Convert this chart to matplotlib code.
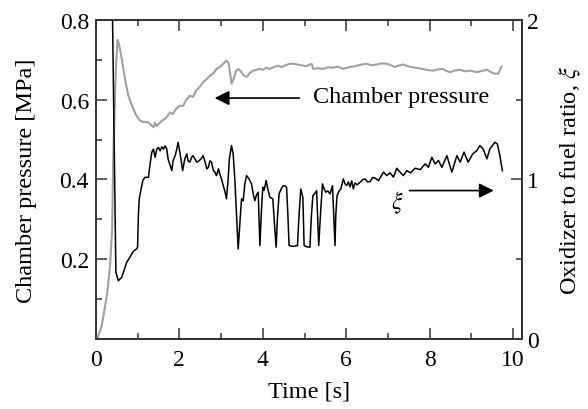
import matplotlib
matplotlib.use("Agg")
import matplotlib.pyplot as plt
from matplotlib.ticker import MultipleLocator, FuncFormatter

plt.rcParams['font.family'] = ['Liberation Serif', 'DejaVu Serif']
plt.rcParams['mathtext.fontset'] = 'stix'

# chamber pressure [MPa] vs time [s]
t_p = [0, 0.05, 0.14, 0.19, 0.27, 0.34, 0.39, 0.42, 0.48, 0.52, 0.55, 0.60, 0.66, 0.72,
       0.78, 0.84, 0.90, 0.96, 1.06, 1.15, 1.26, 1.32, 1.38, 1.42, 1.46, 1.54, 1.61, 1.68,
       1.78, 1.85, 1.92, 2.02, 2.09, 2.16, 2.25, 2.33, 2.40, 2.49, 2.57, 2.66, 2.73, 2.81,
       2.89, 2.97, 3.05, 3.13, 3.18, 3.23, 3.25, 3.30, 3.36, 3.42, 3.48, 3.55, 3.62, 3.69,
       3.76, 3.84, 3.93, 4.00, 4.08, 4.17, 4.27, 4.36, 4.46, 4.56, 4.65, 4.73, 4.89, 5.03,
       5.17, 5.21, 5.32, 5.44, 5.56, 5.68, 5.80, 5.92, 6.05, 6.25, 6.37, 6.49, 6.61, 6.73,
       6.85, 6.97, 7.07, 7.17, 7.27, 7.36, 7.48, 7.60, 7.72, 7.84, 7.96, 8.08, 8.20, 8.32,
       8.40, 8.49, 8.60, 8.72, 8.84, 8.97, 9.13, 9.25, 9.37, 9.45, 9.52, 9.64, 9.72]
p = [0, 0.005, 0.033, 0.063, 0.113, 0.183, 0.276, 0.47, 0.677, 0.75, 0.74, 0.715, 0.677, 0.64,
     0.61, 0.592, 0.577, 0.562, 0.547, 0.544, 0.543, 0.537, 0.531, 0.542, 0.534, 0.543, 0.549, 0.554,
     0.568, 0.564, 0.577, 0.585, 0.584, 0.599, 0.61, 0.607, 0.622, 0.632, 0.644, 0.652, 0.66, 0.665,
     0.677, 0.682, 0.69, 0.698, 0.692, 0.657, 0.64, 0.652, 0.672, 0.677, 0.670, 0.660, 0.657, 0.667,
     0.672, 0.675, 0.677, 0.675, 0.680, 0.677, 0.682, 0.685, 0.682, 0.687, 0.690, 0.690, 0.687, 0.684,
     0.690, 0.677, 0.679, 0.677, 0.681, 0.680, 0.683, 0.677, 0.681, 0.685, 0.688, 0.690, 0.686, 0.688,
     0.691, 0.690, 0.686, 0.682, 0.686, 0.688, 0.684, 0.681, 0.679, 0.677, 0.674, 0.673, 0.676, 0.677,
     0.672, 0.669, 0.673, 0.675, 0.671, 0.673, 0.669, 0.672, 0.675, 0.670, 0.666, 0.665, 0.683]

# oxidizer to fuel ratio xi vs time [s]
t_xi = [0.37, 0.48, 0.54, 0.58, 0.62, 0.67, 0.74, 0.79, 0.86, 0.91, 0.98, 1.00, 1.02, 1.04,
        1.10, 1.13, 1.18, 1.26, 1.30, 1.34, 1.38, 1.42, 1.46, 1.50, 1.54, 1.58, 1.62, 1.66,
        1.70, 1.73, 1.82, 1.85, 1.90, 1.94, 1.97, 2.02, 2.08, 2.13, 2.18, 2.21, 2.25, 2.30,
        2.33, 2.37, 2.42, 2.47, 2.52, 2.57, 2.61, 2.66, 2.70, 2.73, 2.77, 2.82, 2.85, 2.89,
        2.94, 2.97, 3.01, 3.06, 3.09, 3.13, 3.17, 3.20, 3.25, 3.29, 3.33, 3.37, 3.41, 3.45,
        3.49, 3.53, 3.57, 3.61, 3.67, 3.73, 3.77, 3.81, 3.85, 3.89, 3.93, 3.97, 4.00, 4.03,
        4.08, 4.12, 4.17, 4.24, 4.28, 4.32, 4.35, 4.39, 4.44, 4.49, 4.53, 4.57, 4.60, 4.63,
        4.73, 4.83, 4.87, 4.91, 4.96, 4.99, 5.06, 5.13, 5.16, 5.20, 5.24, 5.29, 5.34, 5.39,
        5.43, 5.47, 5.51, 5.56, 5.61, 5.67, 5.73, 5.75, 5.78, 5.83, 5.87, 5.93, 5.97, 6.01,
        6.05, 6.09, 6.13, 6.17, 6.21, 6.26, 6.33, 6.39, 6.45, 6.51, 6.57, 6.63, 6.69, 6.77,
        6.89, 6.97, 7.05, 7.13, 7.21, 7.29, 7.37, 7.45, 7.54, 7.65, 7.77, 7.89, 7.97, 8.05,
        8.13, 8.21, 8.29, 8.41, 8.53, 8.65, 8.73, 8.82, 8.92, 9.03, 9.13, 9.20, 9.28, 9.37,
        9.44, 9.56, 9.62, 9.68, 9.74]
xi = [2.6, 0.418, 0.365, 0.376, 0.386, 0.426, 0.481, 0.50, 0.533, 0.552, 0.564, 0.577, 0.784, 0.878,
      0.961, 0.997, 1.013, 1.013, 1.097, 1.17, 1.19, 1.139, 1.19, 1.201, 1.179, 1.204, 1.19, 1.21,
      1.19, 1.129, 1.055, 1.116, 1.149, 1.19, 1.233, 1.16, 1.055, 1.129, 1.16, 1.116, 1.108, 1.141,
      1.149, 1.129, 1.108, 1.116, 1.129, 1.149, 1.116, 1.066, 1.078, 1.116, 1.108, 1.053, 1.047, 1.024,
      1.066, 1.034, 1.003, 0.953, 0.928, 0.878, 1.003, 1.129, 1.212, 1.16, 1.003, 0.784, 0.564, 0.721,
      0.878, 0.865, 0.972, 1.024, 1.003, 0.972, 0.909, 0.867, 0.903, 0.92, 0.585, 0.815, 0.951, 0.93,
      0.993, 0.94, 0.888, 0.878, 0.721, 0.575, 0.752, 0.909, 0.94, 0.961, 0.959, 0.951, 0.784, 0.585,
      0.580, 0.585, 0.784, 0.94, 0.888, 0.585, 0.577, 0.575, 0.752, 0.898, 0.909, 0.93, 0.585, 0.815,
      0.972, 0.94, 0.92, 0.928, 0.909, 0.961, 0.585, 0.784, 0.898, 0.928, 0.94, 1.003, 0.972, 0.961,
      0.984, 0.953, 0.991, 0.94, 0.978, 0.966, 0.982, 0.997, 1.003, 0.984, 0.986, 1.012, 1.008, 0.992,
      1.045, 1.024, 1.041, 1.014, 1.07, 1.045, 1.024, 1.055, 1.041, 1.07, 1.061, 1.097, 1.076, 1.139,
      1.097, 1.118, 1.076, 1.149, 1.045, 1.149, 1.108, 1.171, 1.108, 1.16, 1.181, 1.212, 1.191, 1.129,
      1.191, 1.233, 1.223, 1.149, 1.055]

fig = plt.figure(figsize=(5.88, 4.10), dpi=100)
ax = fig.add_axes([0.163, 0.171, 0.724, 0.778])
ax2 = ax.twinx()

ax.plot(t_p, p, color='#a0a0a0', lw=1.5, zorder=3)
ax2.plot(t_xi, xi, color='black', lw=1.1, zorder=3)

ax.set_xlim(0, 10.2)
ax.set_ylim(0, 0.8)
ax2.set_ylim(0, 2)

ax.xaxis.set_major_locator(MultipleLocator(2))
ax.xaxis.set_minor_locator(MultipleLocator(1))
ax.yaxis.set_major_locator(MultipleLocator(0.2))
ax.yaxis.set_minor_locator(MultipleLocator(0.1))
ax.yaxis.set_major_formatter(FuncFormatter(lambda v, pos: '' if abs(v) < 1e-9 else '%.1f' % v))
ax2.yaxis.set_major_locator(MultipleLocator(1))
ax2.yaxis.set_minor_locator(MultipleLocator(0.5))

ax.tick_params(which='both', direction='in', top=True, right=False, labelsize=17, color='#333333')
ax.tick_params(which='major', length=8, width=1.1)
ax.tick_params(which='minor', length=4, width=1.1)
ax.tick_params(axis='x', pad=7)
ax.tick_params(axis='y', pad=5)
ax2.tick_params(which='both', direction='in', labelsize=17, color='#333333', pad=4)
ax2.tick_params(which='major', length=8, width=1.1)
ax2.tick_params(which='minor', length=4, width=1.1)

for a in (ax, ax2):
    for s in a.spines.values():
        s.set_color('#333333')
        s.set_linewidth(1.3)

ax.set_xlabel('Time [s]', fontsize=17.5, labelpad=8)
ax.set_ylabel('Chamber pressure [MPa]', fontsize=17.5, labelpad=16)
ax2.set_ylabel(r'Oxidizer to fuel ratio, $\xi$', fontsize=17.5, labelpad=13)

ax.annotate('', xy=(2.78, 0.604), xytext=(4.94, 0.604),
            arrowprops=dict(arrowstyle='-|>', color='black', lw=1.2, mutation_scale=22))
ax.text(5.2, 0.609, 'Chamber pressure', fontsize=17.5, va='center', ha='left')
ax.annotate('', xy=(9.6, 0.372), xytext=(7.45, 0.372),
            arrowprops=dict(arrowstyle='-|>', color='black', lw=1.2, mutation_scale=22))
ax.text(7.22, 0.343, r'$\xi$', fontsize=17, va='center', ha='center')

fig.savefig('out.png', dpi=100)
